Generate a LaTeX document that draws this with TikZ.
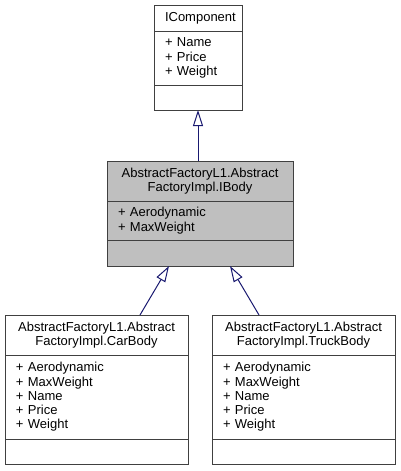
\documentclass[tikz,border=0pt]{standalone}
\usepackage{fontspec}
\setmainfont{Liberation Sans}
\usetikzlibrary{%
    arrows.meta,%
    positioning,%
    calc
    }
\definecolor{boxborder}{RGB}{64,64,64}
\definecolor{edgeblue}{RGB}{25,25,112}
\definecolor{currentfill}{RGB}{191,191,191}
\newcommand{\umlfont}{\fontsize{13}{14.3}\selectfont}
\tikzset{
  classbox/.style={
    rectangle,
    draw=boxborder,
    line width=1pt,
    outer sep=0pt,
    inner xsep=11pt,
    inner ysep=0pt,
    font=\umlfont,
    fill=white,
  },
  classtitle/.style={
    classbox,
    align=center,
  },
  classattr/.style={
    classbox,
    align=left,
  },
  current/.style={
    fill=currentfill,
  },
  inherit/.style={
    -{Triangle[open,length=16pt,width=10pt]},
    draw=edgeblue,
    line width=1pt,
  },
}

\begin{document}
\begin{tikzpicture}[x=1pt,y=-1pt,node distance=0pt]
\useasboundingbox (0,0) rectangle (400,471);

% IComponent
\node[classtitle,text width=66pt,minimum height=26pt,anchor=north west]
  (comptitle) at (154,5)
  {IComponent};
\node[classattr,text width=66pt,minimum height=54pt,below=of comptitle]
  (compattr)
  {+ Name\\+ Price\\+ Weight};
\node[classattr,text width=66pt,minimum height=25pt,below=of compattr]
  (compops)
  {};

% IBody
\node[classtitle,current,text width=164pt,minimum height=40pt,anchor=north west]
  (bodytitle) at (107,161)
  {AbstractFactoryL1.Abstract\\FactoryImpl.IBody};
\node[classattr,current,text width=164pt,minimum height=39pt,below=of bodytitle]
  (bodyattr)
  {+ Aerodynamic\\+ MaxWeight};
\node[classattr,current,text width=164pt,minimum height=26pt,below=of bodyattr]
  (bodyops)
  {};

% CarBody
\node[classtitle,text width=161pt,minimum height=40pt,anchor=north west]
  (cartitle) at (5,315)
  {AbstractFactoryL1.Abstract\\FactoryImpl.CarBody};
\node[classattr,text width=161pt,minimum height=84pt,below=of cartitle]
  (carattr)
  {+ Aerodynamic\\+ MaxWeight\\+ Name\\+ Price\\+ Weight};
\node[classattr,text width=161pt,minimum height=25pt,below=of carattr]
  (carops)
  {};

% TruckBody
\node[classtitle,text width=161pt,minimum height=40pt,anchor=north west]
  (trucktitle) at (212,315)
  {AbstractFactoryL1.Abstract\\FactoryImpl.TruckBody};
\node[classattr,text width=161pt,minimum height=84pt,below=of trucktitle]
  (truckattr)
  {+ Aerodynamic\\+ MaxWeight\\+ Name\\+ Price\\+ Weight};
\node[classattr,text width=161pt,minimum height=25pt,below=of truckattr]
  (truckops)
  {};

\begin{scope}[inherit]
\draw
  (compops.south |- bodytitle.north) -- (compops.south);
\draw
  ([xshift=43.5pt]cartitle.north) -- ([xshift=-31pt]bodyops.south);
\draw
  ([xshift=-44.5pt]trucktitle.north) -- ([xshift=30pt]bodyops.south);
\end{scope}
\end{tikzpicture}
\end{document}
